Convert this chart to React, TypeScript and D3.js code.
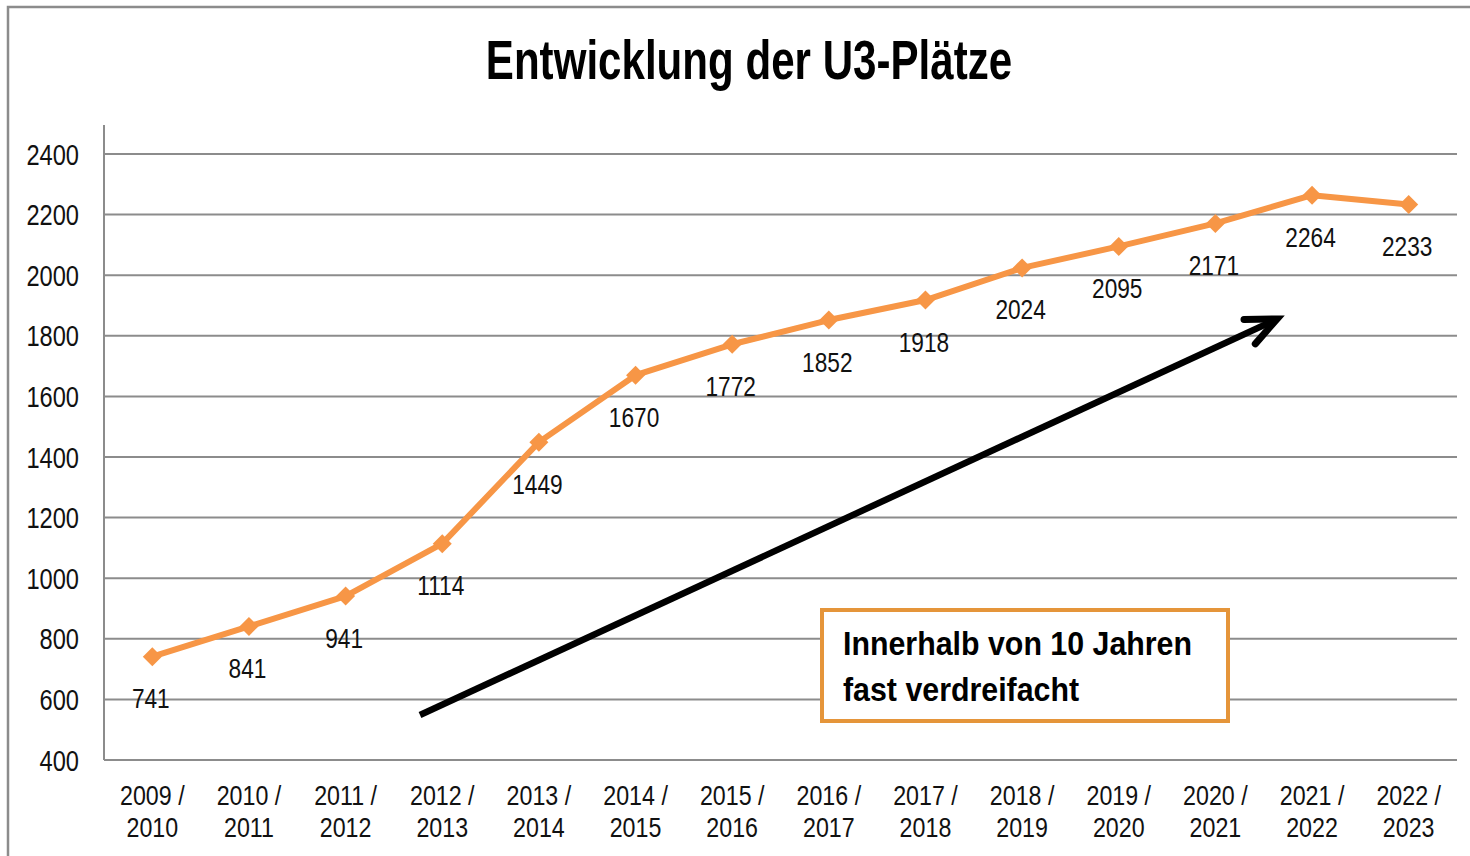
import React from "react";
import * as d3 from "d3";

const categories = [
  ["2009 /", "2010"], ["2010 /", "2011"], ["2011 /", "2012"], ["2012 /", "2013"],
  ["2013 /", "2014"], ["2014 /", "2015"], ["2015 /", "2016"], ["2016 /", "2017"],
  ["2017 /", "2018"], ["2018 /", "2019"], ["2019 /", "2020"], ["2020 /", "2021"],
  ["2021 /", "2022"], ["2022 /", "2023"],
];
const values = [741, 841, 941, 1114, 1449, 1670, 1772, 1852, 1918, 2024, 2095, 2171, 2264, 2233];
const yTicks = [400, 600, 800, 1000, 1200, 1400, 1600, 1800, 2000, 2200, 2400];
const title = "Entwicklung der U3-Plätze";
const noteLines = ["Innerhalb von 10 Jahren", "fast verdreifacht"];

const FONT = "'Liberation Sans', Arial, sans-serif";

function NText(props: {
  x: number; y: number; s: number; size: number; anchor?: string; bold?: boolean; children: React.ReactNode; fill?: string;
}) {
  const { x, y, s, size, anchor = "start", bold = false, children, fill = "#111" } = props;
  return (
    <text
      transform={`translate(${x},${y}) scale(${s},1)`}
      textAnchor={anchor}
      fontFamily={FONT}
      fontWeight={bold ? "bold" : "normal"}
      fontSize={size}
      fill={fill}
    >
      {children}
    </text>
  );
}

export default function App() {
  const W = 1470, H = 856;
  const left = 104, right = 1457, top = 154, bottom = 760;
  const x = d3.scaleBand<number>().domain(values.map((_, i) => i)).range([left, right]);
  const y = d3.scaleLinear().domain([400, 2400]).range([bottom, top]);
  const cx = (i: number) => (x(i) as number) + x.bandwidth() / 2;
  const line = d3.line<number>().x((_, i) => cx(i)).y((d) => y(d));
  const orange = "#F79646";
  const diamond = d3.symbol().type(d3.symbolDiamond2).size(230)();

  // arrow geometry
  const ax1 = 420, ay1 = 715, ax2 = 1277, ay2 = 319;
  const ang = Math.atan2(ay2 - ay1, ax2 - ax1);
  const hl = 33, hw = 0.42;
  const h1 = [ax2 - hl * Math.cos(ang - hw), ay2 - hl * Math.sin(ang - hw)];
  const h2 = [ax2 - hl * Math.cos(ang + hw), ay2 - hl * Math.sin(ang + hw)];

  return (
    <svg width={W} height={H} style={{ position: "absolute", left: 0, top: 0, background: "#fff" }}>
      <rect x={8} y={7} width={1500} height={900} fill="#fff" stroke="#8c8c8c" strokeWidth={2.5} />
      <NText x={749} y={79} s={0.752} size={56} anchor="middle" bold fill="#000">{title}</NText>
      {yTicks.map((t) => (
        <g key={t}>
          <line x1={left} x2={right} y1={y(t)} y2={y(t)} stroke="#8c8c8c" strokeWidth={2} />
          <NText x={79} y={y(t) + 10.5} s={0.815} size={29} anchor="end">{t}</NText>
        </g>
      ))}
      <line x1={left} x2={left} y1={125} y2={bottom} stroke="#8c8c8c" strokeWidth={2} />
      {categories.map((c, i) => (
        <g key={i}>
          <NText x={cx(i)} y={805} s={0.83} size={28} anchor="middle">{c[0]}</NText>
          <NText x={cx(i)} y={837} s={0.83} size={28} anchor="middle">{c[1]}</NText>
        </g>
      ))}
      <path d={line(values) || ""} fill="none" stroke={orange} strokeWidth={6} strokeLinejoin="round" />
      {values.map((v, i) => (
        <path key={i} d={diamond || ""} transform={`translate(${cx(i)},${y(v)})`} fill={orange} />
      ))}
      {values.map((v, i) => (
        <NText key={i} x={cx(i) - 1.5} y={y(v) + 51.5} s={0.81} size={28} anchor="middle">{v}</NText>
      ))}
      <line x1={ax1} y1={ay1} x2={ax2 - 5 * Math.cos(ang)} y2={ay2 - 5 * Math.sin(ang)} stroke="#000" strokeWidth={6.5} />
      <polyline points={`${h1[0]},${h1[1]} ${ax2},${ay2} ${h2[0]},${h2[1]}`} fill="none" stroke="#000" strokeWidth={7} strokeLinejoin="miter" strokeLinecap="round" />
      <rect x={822} y={610} width={406} height={111} fill="#fff" stroke="#E5953A" strokeWidth={4} />
      {noteLines.map((l, i) => (
        <NText key={i} x={843} y={655 + i * 46} s={0.92} size={33} bold fill="#000">{l}</NText>
      ))}
    </svg>
  );
}
